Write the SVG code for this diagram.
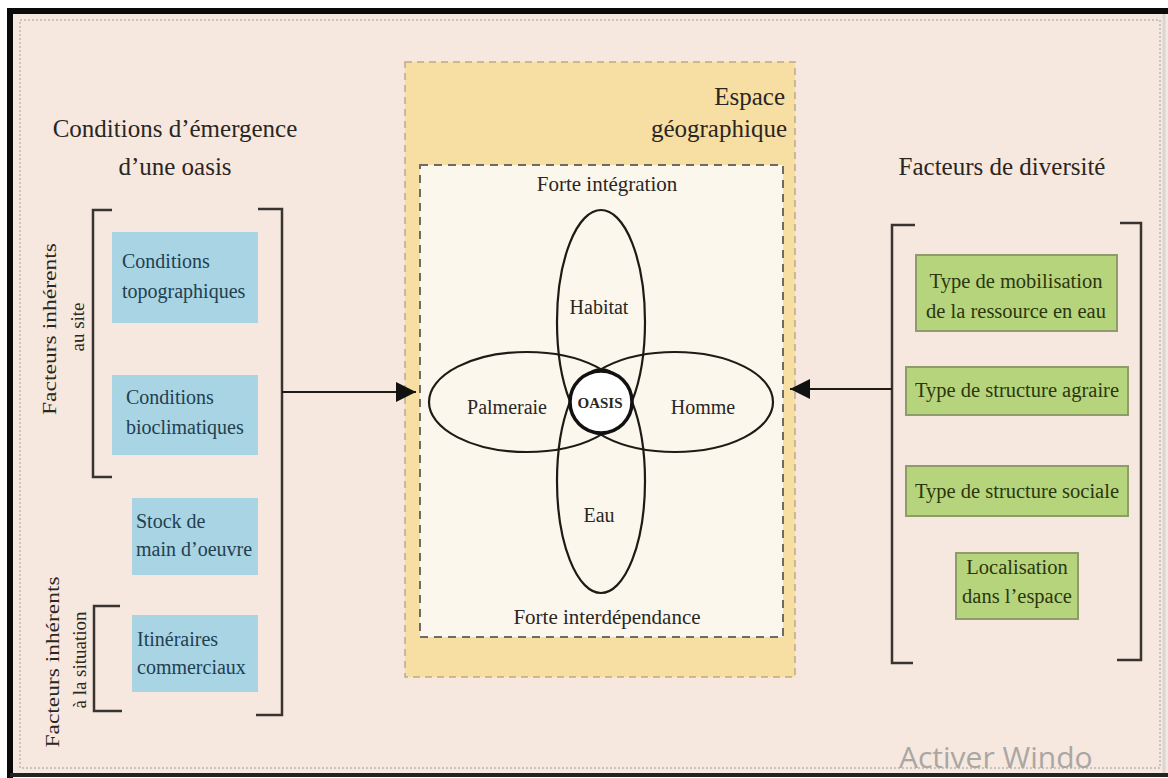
<svg xmlns="http://www.w3.org/2000/svg" width="1168" height="778" viewBox="0 0 1168 778">
<style>
.t{font-family:"Liberation Serif","DejaVu Serif",serif;fill:#2a2622}
.title{font-size:25px}
.lbl{font-size:21px}
.vl{font-size:19px}
.el-t{font-size:20px}
.blue{fill:#a8d4e4}
.bt{font-family:"Liberation Serif","DejaVu Serif",serif;font-size:20px;fill:#22404f}
.green{fill:#b6d47c;stroke:#8e9c6c;stroke-width:2}
.gt{font-family:"Liberation Serif","DejaVu Serif",serif;font-size:20.5px;fill:#2b360f;text-anchor:middle}
.br{fill:none;stroke:#3a3430;stroke-width:2.5}
.el{fill:none;stroke:#1e1a16;stroke-width:2.2}
.conn{stroke:#1e1a16;stroke-width:2;fill:none}
</style>
<defs>
<marker id="ah2" viewBox="0 0 10 10" refX="10" refY="5" markerWidth="28" markerHeight="20" markerUnits="userSpaceOnUse" orient="auto">
<path d="M0,0 L10,5 L0,10 z" fill="#111"/>
</marker>
</defs>
<rect x="0" y="0" width="1168" height="778" fill="#ffffff"/>
<rect x="10" y="11" width="1158" height="764" fill="#f6e8de"/>
<path d="M10,778 V11 H1168" fill="none" stroke="#0a0a0a" stroke-width="6"/>
<line x1="10" y1="775" x2="1168" y2="775" stroke="#222" stroke-width="4"/>
<rect x="20" y="20" width="1140" height="748" fill="none" stroke="#c8c4c0" stroke-width="2" stroke-dasharray="2 2"/>
<line x1="1164" y1="14" x2="1164" y2="773" stroke="#d8d6d4" stroke-width="3"/>

<g id="left-title">
<text class="t title" x="175" y="137" text-anchor="middle">Conditions d’émergence</text>
<text class="t title" x="175" y="175" text-anchor="middle">d’une oasis</text>
</g>

<g id="left-brackets">
<path class="br" d="M112,210 H93 V477 H112"/>
<path class="br" d="M258,209 H282 V715 H256"/>
<path class="br" d="M120,606 H94 V711 H122"/>
</g>

<g id="label-site">
<text class="t vl" transform="translate(56,329) rotate(-90)" text-anchor="middle" textLength="172" lengthAdjust="spacingAndGlyphs">Facteurs inhérents</text>
<text class="t vl" transform="translate(84,327) rotate(-90)" text-anchor="middle">au site</text>
</g>
<g id="label-situation">
<text class="t vl" transform="translate(59,662) rotate(-90)" text-anchor="middle" textLength="171" lengthAdjust="spacingAndGlyphs">Facteurs inhérents</text>
<text class="t vl" transform="translate(86,660) rotate(-90)" text-anchor="middle">à la situation</text>
</g>

<g id="box-topo">
<rect class="blue" x="112" y="232" width="146" height="91"/>
<text class="bt" x="122" y="268">Conditions</text>
<text class="bt" x="122" y="298">topographiques</text>
</g>
<g id="box-bioclim">
<rect class="blue" x="112" y="375" width="146" height="80"/>
<text class="bt" x="126" y="404">Conditions</text>
<text class="bt" x="126" y="434">bioclimatiques</text>
</g>
<g id="box-stock">
<rect class="blue" x="132" y="498" width="126" height="77"/>
<text class="bt" x="136" y="528">Stock de</text>
<text class="bt" x="136" y="556">main d’oeuvre</text>
</g>
<g id="box-itin">
<rect class="blue" x="132" y="615" width="126" height="77"/>
<text class="bt" x="137" y="646">Itinéraires</text>
<text class="bt" x="137" y="674">commerciaux</text>
</g>

<g id="espace">
<rect x="405" y="62" width="390" height="615" fill="#f7dea3" stroke="#b9ab8c" stroke-width="1.5" stroke-dasharray="7 5"/>
<text class="t title" x="785" y="105" text-anchor="end">Espace</text>
<text class="t title" x="787" y="137" text-anchor="end">géographique</text>
</g>

<g id="integration">
<rect x="420" y="165" width="363" height="472" fill="#fcf7ec" stroke="#6e6a66" stroke-width="2" stroke-dasharray="8 6"/>
<text class="t lbl" x="607" y="191" text-anchor="middle">Forte intégration</text>
<text class="t lbl" x="607" y="624" text-anchor="middle">Forte interdépendance</text>
</g>

<g id="habitat">
<ellipse class="el" cx="601" cy="322" rx="44" ry="112"/>
<text class="t el-t" x="599" y="314" text-anchor="middle">Habitat</text>
</g>
<g id="eau">
<ellipse class="el" cx="601" cy="481" rx="44" ry="112"/>
<text class="t el-t" x="599" y="522" text-anchor="middle">Eau</text>
</g>
<g id="palmeraie">
<ellipse class="el" cx="527" cy="402" rx="98" ry="50"/>
<text class="t el-t" x="507" y="414" text-anchor="middle">Palmeraie</text>
</g>
<g id="homme">
<ellipse class="el" cx="675" cy="402" rx="98" ry="50"/>
<text class="t el-t" x="703" y="414" text-anchor="middle">Homme</text>
</g>
<g id="oasis">
<circle cx="601" cy="402" r="31" fill="#ffffff" stroke="#111" stroke-width="3.5"/>
<text class="t" x="600" y="407.5" font-size="15" font-weight="bold" text-anchor="middle">OASIS</text>
</g>

<g id="right-title">
<text class="t title" x="1002" y="175" text-anchor="middle">Facteurs de diversité</text>
</g>
<g id="right-brackets">
<path class="br" d="M915,225 H892 V663 H913"/>
<path class="br" d="M1120,223 H1141 V660 H1117"/>
</g>

<g id="box-mobil">
<rect class="green" x="916" y="255" width="201" height="76"/>
<text class="gt" x="1016" y="288">Type de mobilisation</text>
<text class="gt" x="1016" y="318">de la ressource en eau</text>
</g>
<g id="box-agraire">
<rect class="green" x="906" y="367" width="222" height="48"/>
<text class="gt" x="1017" y="397">Type de structure agraire</text>
</g>
<g id="box-sociale">
<rect class="green" x="906" y="466" width="222" height="50"/>
<text class="gt" x="1017" y="498">Type de structure sociale</text>
</g>
<g id="box-local">
<rect class="green" x="956" y="553" width="122" height="66"/>
<text class="gt" x="1017" y="574">Localisation</text>
<text class="gt" x="1017" y="603">dans l’espace</text>
</g>

<g id="connectors">
<line class="conn" x1="282" y1="392" x2="416" y2="392" marker-end="url(#ah2)"/>
<line class="conn" x1="892" y1="389" x2="790" y2="389" marker-end="url(#ah2)"/>
</g>

<text x="899" y="768" font-family="Open Sans, sans-serif" font-size="30" fill="#aaa6a4">Activer Windo</text>
</svg>
